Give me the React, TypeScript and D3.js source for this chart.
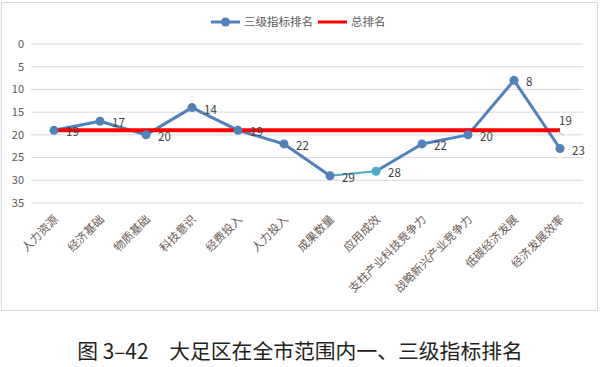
import React from 'react';
import * as d3 from 'd3';

const categories = ['人力资源', '经济基础', '物质基础', '科技意识', '经费投入', '人力投入',
  '成果数量', '应用成效', '支柱产业科技竞争力', '战略新兴产业竞争力', '低碳经济发展', '经济发展效率'];
const levelThreeRank = [19, 17, 20, 14, 19, 22, 29, 28, 22, 20, 8, 23];
const totalRank = [19, 19, 19, 19, 19, 19, 19, 19, 19, 19, 19, 19];
const yTicks = [0, 5, 10, 15, 20, 25, 30, 35];
const legendNames = ['三级指标排名', '总排名'];
const caption = '图 3–42\u3000大足区在全市范围内一、三级指标排名';

const W = 600, H = 367;
const margin = { left: 31, right: 17, top: 44, plotBottom: 203 };
const blue = '#4f81bd';
const teal = '#4bacc6';
const font = '"Noto Sans CJK SC", "Noto Sans", sans-serif';

export default function App() {
  const x = d3.scaleBand<string>().domain(categories).range([margin.left, W - margin.right]);
  const y = d3.scaleLinear().domain([0, 35]).range([margin.top, margin.plotBottom]);
  const cx = (i: number) => (x(categories[i]) as number) + x.bandwidth() / 2;

  const line = d3.line<number>().x((d, i) => cx(i)).y(d => y(d));
  // 成果数量 -> 应用成效 segment drawn separately in teal
  const seg = (a: number, b: number) =>
    line.x((d, i) => cx(i + a))(levelThreeRank.slice(a, b + 1)) as string;

  return (
    <svg width={W} height={H} style={{ display: 'block', position: 'absolute', left: 0, top: 0 }} fontFamily={font}>
      <rect x={1.5} y={2.5} width={596} height={308} fill="#fff" stroke="#d9d9d9" />
      {yTicks.map(t => (
        <g key={t}>
          <line x1={margin.left} x2={W - margin.right} y1={y(t)} y2={y(t)} stroke="#d9d9d9" />
          <text x={24} y={y(t)} dy="0.35em" textAnchor="end" fontSize={11} fill="#595959">{t}</text>
        </g>
      ))}
      {categories.map((c, i) => (
        <text key={c} transform={`translate(${cx(i) + 5},${220}) rotate(-45)`} textAnchor="end"
          fontSize={11.5} fill="#6b5a55">{c}</text>
      ))}
      <path d={seg(0, 6)} fill="none" stroke={blue} strokeWidth={3} strokeLinejoin="round" />
      <path d={seg(6, 7)} fill="none" stroke={teal} strokeWidth={2} />
      <path d={seg(7, 11)} fill="none" stroke={blue} strokeWidth={3} strokeLinejoin="round" />
      <path d={d3.line<number>().x((d, i) => cx(i)).y(d => y(d))(totalRank) as string}
        fill="none" stroke="#ff0000" strokeWidth={4} />
      {levelThreeRank.map((v, i) => (
        <g key={i}>
          <circle cx={cx(i)} cy={y(v)} r={4.5} fill={i === 7 ? teal : blue} />
          <text x={cx(i) + 12} y={y(v) + 2} dy="0.35em" fontSize={11.5} fill="#404040">{v}</text>
        </g>
      ))}
      <line x1={cx(11) - 2} y1={y(19) + 1} x2={cx(11) + 4} y2={y(19) + 5} stroke="#bfbfbf" />
      <text x={cx(11) - 1} y={y(19) - 5} fontSize={11.5} fill="#404040">{totalRank[11]}</text>
      <g transform="translate(211,22)">
        <line x1={0} x2={29} stroke={blue} strokeWidth={3} />
        <circle cx={14.5} r={4.5} fill={blue} />
        <text x={33} dy="0.35em" fontSize={11.5} fill="#595959">{legendNames[0]}</text>
        <line x1={107} x2={136} stroke="#ff0000" strokeWidth={3} />
        <text x={140} dy="0.35em" fontSize={11.5} fill="#595959">{legendNames[1]}</text>
      </g>
      <text x={W / 2} y={352} dy="0.35em" textAnchor="middle" fontSize={20.8} fill="#231f20">{caption}</text>
    </svg>
  );
}
